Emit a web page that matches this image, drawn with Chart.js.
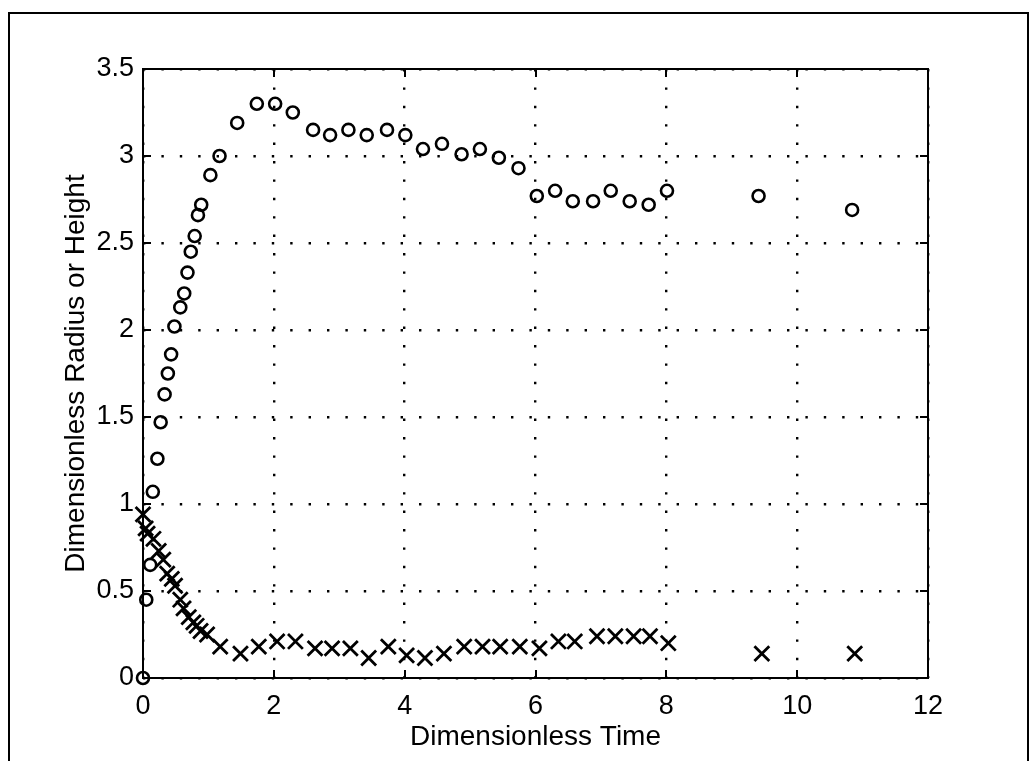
<!DOCTYPE html>
<html>
<head>
<meta charset="utf-8">
<script src="https://cdn.jsdelivr.net/npm/chart.js@4"></script>
<style>
  html, body { margin: 0; padding: 0; background: #fff; }
  #plot { display: block; }
</style>
</head>
<body>
<canvas id="plot" width="1030" height="761"></canvas>
<script>
// circles: dimensionless radius vs time
const radiusTime = [0, 0.05, 0.11, 0.15, 0.22, 0.27, 0.33, 0.38, 0.43, 0.48, 0.57, 0.63, 0.68, 0.73, 0.79, 0.84, 0.89, 1.03, 1.17, 1.44, 1.74, 2.02, 2.29, 2.60, 2.86, 3.14, 3.42, 3.73, 4.01, 4.28, 4.57, 4.87, 5.15, 5.44, 5.74, 6.02, 6.30, 6.57, 6.88, 7.15, 7.44, 7.73, 8.01, 9.41, 10.84];
const radiusValues = [0, 0.45, 0.65, 1.07, 1.26, 1.47, 1.63, 1.75, 1.86, 2.02, 2.13, 2.21, 2.33, 2.45, 2.54, 2.66, 2.72, 2.89, 3.00, 3.19, 3.30, 3.30, 3.25, 3.15, 3.12, 3.15, 3.12, 3.15, 3.12, 3.04, 3.07, 3.01, 3.04, 2.99, 2.93, 2.77, 2.80, 2.74, 2.74, 2.80, 2.74, 2.72, 2.80, 2.77, 2.69];

// crosses: dimensionless height vs time
const heightTime = [0, 0.04, 0.07, 0.16, 0.24, 0.31, 0.37, 0.44, 0.49, 0.57, 0.62, 0.70, 0.77, 0.82, 0.88, 0.98, 1.18, 1.49, 1.77, 2.05, 2.33, 2.63, 2.89, 3.17, 3.45, 3.75, 4.03, 4.31, 4.60, 4.91, 5.19, 5.46, 5.76, 6.06, 6.35, 6.60, 6.94, 7.22, 7.50, 7.75, 8.03, 9.46, 10.88];
const heightValues = [0.94, 0.86, 0.83, 0.80, 0.73, 0.68, 0.60, 0.57, 0.53, 0.45, 0.40, 0.35, 0.32, 0.30, 0.27, 0.25, 0.18, 0.14, 0.18, 0.21, 0.21, 0.17, 0.17, 0.17, 0.115, 0.18, 0.13, 0.115, 0.14, 0.18, 0.18, 0.18, 0.18, 0.17, 0.21, 0.21, 0.24, 0.24, 0.24, 0.24, 0.20, 0.14, 0.14];

const xTicks = [0, 2, 4, 6, 8, 10, 12];
const yTicks = [0, 0.5, 1, 1.5, 2, 2.5, 3, 3.5];

const FONT = 'Liberation Sans, Arial, Helvetica, sans-serif';

// white page with the thin outer frame
const pageFrame = {
  id: 'pageFrame',
  beforeDraw(chart) {
    const ctx = chart.ctx;
    ctx.save();
    ctx.fillStyle = '#fff';
    ctx.fillRect(0, 0, chart.width, chart.height);
    ctx.strokeStyle = '#000';
    ctx.lineWidth = 2;
    ctx.strokeRect(9, 13, 1019, 800);
    ctx.restore();
  }
};

// solid axes box with inward tick marks on all four sides
const axesBox = {
  id: 'axesBox',
  afterDatasetsDraw(chart) {
    const { ctx, chartArea: a, scales } = chart;
    const len = 8;
    ctx.save();
    ctx.strokeStyle = '#000';
    ctx.lineWidth = 2;
    ctx.beginPath();
    scales.x.ticks.forEach(t => {
      const px = Math.round(scales.x.getPixelForValue(t.value));
      ctx.moveTo(px, a.bottom); ctx.lineTo(px, a.bottom - len);
      ctx.moveTo(px, a.top); ctx.lineTo(px, a.top + len);
    });
    scales.y.ticks.forEach(t => {
      const py = Math.round(scales.y.getPixelForValue(t.value));
      ctx.moveTo(a.left, py); ctx.lineTo(a.left + len, py);
      ctx.moveTo(a.right, py); ctx.lineTo(a.right - len, py);
    });
    ctx.stroke();
    ctx.strokeRect(a.left, a.top, a.right - a.left, a.bottom - a.top);
    ctx.restore();
  }
};

const toPoints = (xs, ys) => xs.map((x, i) => ({ x: x, y: ys[i] }));

new Chart(document.getElementById('plot'), {
  type: 'scatter',
  data: {
    datasets: [
      {
        label: 'Radius',
        data: toPoints(radiusTime, radiusValues),
        pointStyle: 'circle',
        pointRadius: 6,
        pointBorderWidth: 2.6,
        borderColor: '#000',
        backgroundColor: 'rgba(0,0,0,0)',
        clip: false
      },
      {
        label: 'Height',
        data: toPoints(heightTime, heightValues),
        pointStyle: 'crossRot',
        pointRadius: 10.5,
        pointBorderWidth: 2.8,
        borderColor: '#000',
        backgroundColor: '#000',
        clip: false
      }
    ]
  },
  options: {
    responsive: false,
    animation: false,
    events: [],
    layout: { padding: { left: 0, top: 69, right: 102, bottom: 0 } },
    plugins: {
      legend: { display: false },
      tooltip: { enabled: false }
    },
    scales: {
      x: {
        type: 'linear',
        min: 0,
        max: 12,
        afterBuildTicks: s => { s.ticks = xTicks.map(v => ({ value: v })); },
        afterFit: s => { s.height = 83; },
        grid: { color: '#000', lineWidth: 2.4, drawTicks: false },
        border: { display: false, dash: [2.4, 16] },
        ticks: { color: '#000', padding: 12, font: { family: FONT, size: 27 }, callback: v => String(v) },
        title: {
          display: true,
          text: 'Dimensionless Time',
          color: '#000',
          font: { family: FONT, size: 28 },
          padding: { top: 0, bottom: 7 }
        }
      },
      y: {
        type: 'linear',
        min: 0,
        max: 3.5,
        afterBuildTicks: s => { s.ticks = yTicks.map(v => ({ value: v })); },
        afterFit: s => { s.width = 143; },
        grid: { color: '#000', lineWidth: 2.4, drawTicks: false },
        border: { display: false, dash: [2.4, 16] },
        ticks: { color: '#000', padding: 9, font: { family: FONT, size: 27 }, callback: v => String(v) },
        title: {
          display: true,
          text: 'Dimensionless Radius or Height',
          color: '#000',
          font: { family: FONT, size: 28 },
          padding: { top: 59, bottom: 0 }
        }
      }
    }
  },
  plugins: [pageFrame, axesBox]
});
</script>
</body>
</html>
